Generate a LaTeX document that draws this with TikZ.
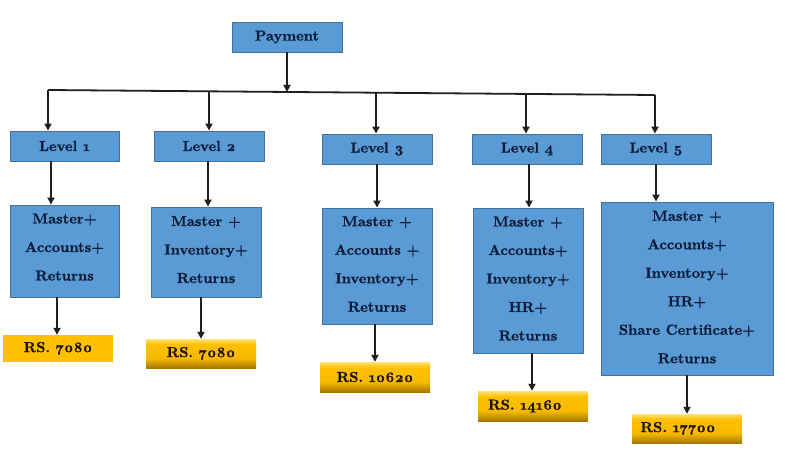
\documentclass[tikz,border=0pt]{standalone}
\usepackage{fontspec}
\setmainfont{lmroman10-regular.otf}[BoldFont=lmroman10-bold.otf, Numbers=OldStyle, BoldFeatures={FakeBold=0.8}]
\usetikzlibrary{arrows.meta}
\definecolor{boxblue}{HTML}{5B9BD5}
\definecolor{boxedge}{HTML}{41719C}
\definecolor{txt}{HTML}{0B1A36}
\definecolor{gold}{HTML}{FFC000}
\definecolor{goldtop}{HTML}{FFE27A}
\definecolor{goldmid}{HTML}{F7BA00}
\definecolor{goldbot}{HTML}{A67800}
\definecolor{pricetxt}{HTML}{1E1200}
\pgfdeclareverticalshading{goldshade}{100bp}{color(0bp)=(goldbot); color(25bp)=(goldbot); color(42bp)=(goldmid); color(66bp)=(gold); color(75bp)=(goldtop); color(100bp)=(goldtop)}
\newcommand{\lowpad}[1]{\rule[-#1]{0pt}{#1}}
\tikzset{
  bluebox/.style={draw=boxedge, line width=0.9pt, fill=boxblue, text=txt,
    font=\fontsize{14.5}{28.5}\selectfont\bfseries, align=center, inner sep=0pt},
  pricebox/.style={inner sep=0pt, text=pricetxt, font=\fontsize{14.5}{17}\selectfont\bfseries,
    minimum width=110pt},
  goldgrad/.style={shading=goldshade},
  arr/.style={line width=1.8pt, draw=black!88, -{Triangle[width=7pt,length=7pt]}},
  bus/.style={line width=1.8pt, draw=black!88}
}
\begin{document}
\begin{tikzpicture}[x=1pt,y=-1pt]
\useasboundingbox (0,0) rectangle (801,452);
\fill[white] (0,0) rectangle (801,452);
% top
\node[bluebox, minimum width=110pt, minimum height=30pt] (pay) at (287,37) {Payment};
% levels
\node[bluebox, minimum width=109pt, minimum height=30pt] (L1) at (64.5,146) {Level 1};
\node[bluebox, minimum width=110pt, minimum height=30pt] (L2) at (209,146) {Level 2};
\node[bluebox, minimum width=110pt, minimum height=30pt] (L3) at (377,149) {Level 3};
\node[bluebox, minimum width=110pt, minimum height=30pt] (L4) at (527,149) {Level 4};
\node[bluebox, minimum width=110pt, minimum height=30pt] (L5) at (656,149) {Level 5};
% contents
\node[bluebox, minimum width=109pt, minimum height=92pt] (B1) at (64.5,251) {Master+\\Accounts+\\Returns\lowpad{8pt}};
\node[bluebox, minimum width=110pt, minimum height=90pt] (B2) at (206,252) {Master +\\Inventory+\\Returns\lowpad{5pt}};
\node[bluebox, minimum width=110pt, minimum height=116pt] (B3) at (377,266) {Master +\\Accounts +\\Inventory+\\Returns\lowpad{4pt}};
\node[bluebox, minimum width=110pt, minimum height=145pt] (B4) at (528,280.5) {Master +\\Accounts+\\Inventory+\\HR+\\Returns\lowpad{4pt}};
\node[bluebox, minimum width=172pt, minimum height=173pt] (B5) at (687,288.5) {Master +\\Accounts+\\Inventory+\\HR+\\Share Certificate+\\Returns\lowpad{3pt}};
% prices
\node[pricebox, fill=gold, minimum height=27pt] (P1) at (58,348.5) {RS. 7080};
\node[pricebox, goldgrad, minimum height=29pt] (P2) at (201,353.5) {RS. 7080};
\node[pricebox, goldgrad, minimum height=30pt] (P3) at (375,377) {RS. 10620};
\node[pricebox, goldgrad, minimum height=30pt] (P4) at (533,406) {RS. 14160\hspace*{16pt}};
\node[pricebox, goldgrad, minimum height=29pt] (P5) at (687,428.5) {RS. 17700\hspace*{18pt}};
% bus
\coordinate (b1) at (48,90);
\coordinate (b5) at (655,95);
\coordinate (b2) at (209,91.3);
\coordinate (b3) at (376,92.7);
\coordinate (b4) at (526,93.9);
\coordinate (bp) at (287,92);
\draw[bus] (b1) -- (b5);
\draw[arr] (pay.south) -- (bp);
\draw[arr] (b1) -- (b1 |- L1.north);
\draw[arr] (b2) -- (b2 |- L2.north);
\draw[arr] (b3) -- (b3 |- L3.north);
\draw[arr] (b4) -- (b4 |- L4.north);
\draw[arr] (b5) -- (b5 |- L5.north);
% level -> content
\draw[arr] ([xshift=-13.5pt]L1.south) -- ([xshift=-13.5pt]L1.south |- B1.north);
\draw[arr] ([xshift=-1pt]L2.south) -- ([xshift=-1pt]L2.south |- B2.north);
\draw[arr] (L3.south) -- (L3.south |- B3.north);
\draw[arr] ([xshift=2pt]L4.south) -- ([xshift=2pt]L4.south |- B4.north);
\draw[arr] (L5.south) -- (L5.south |- B5.north);
% content -> price
\draw[arr] ([xshift=-7.5pt]B1.south) -- ([xshift=-7.5pt]B1.south |- P1.north);
\draw[arr] ([xshift=-5pt]B2.south) -- ([xshift=-5pt]B2.south |- P2.north);
\draw[arr] ([xshift=-2pt]B3.south) -- ([xshift=-2pt]B3.south |- P3.north);
\draw[arr] ([xshift=4pt]B4.south) -- ([xshift=4pt]B4.south |- P4.north);
\draw[arr] (B5.south) -- (B5.south |- P5.north);
\end{tikzpicture}
\end{document}
